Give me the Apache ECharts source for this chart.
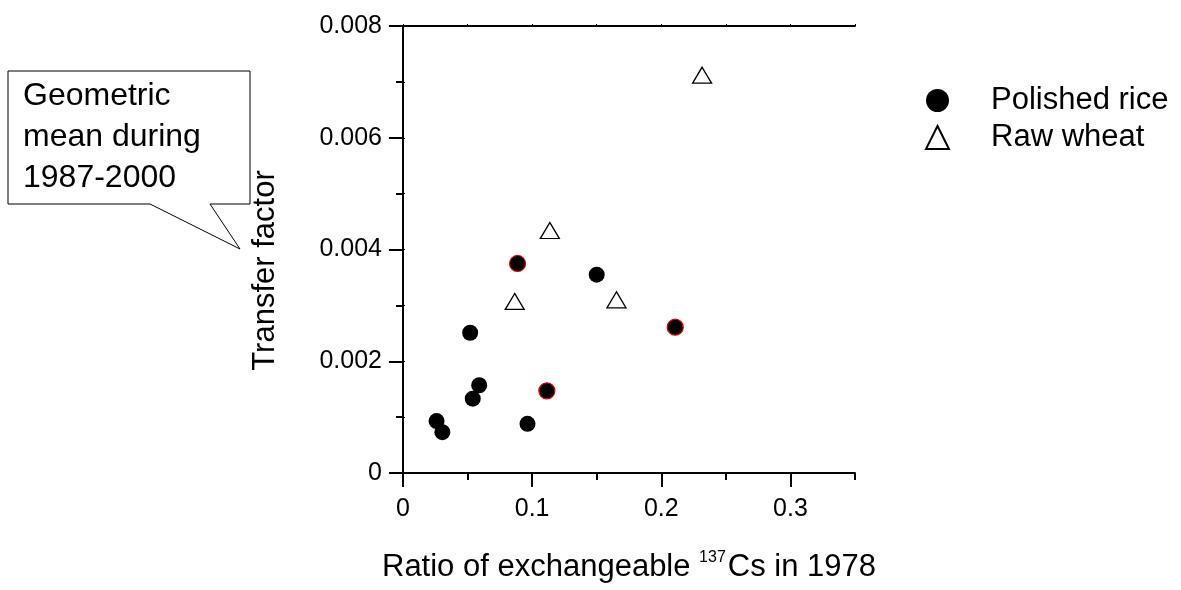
<!DOCTYPE html>
<html>
<head>
<meta charset="utf-8">
<script src="https://cdn.jsdelivr.net/npm/echarts@6/dist/echarts.min.js"></script>
<style>
    html, body {margin: 0; padding: 0; background: #fff;}
    #chart {width: 1181px; height: 590px;}
</style>
</head>
<body>
<div id="chart"></div>
<script>
var riceX = [0.026, 0.0305, 0.052, 0.054, 0.059, 0.0887, 0.0964, 0.1114, 0.150, 0.2108];
var riceY = [0.00093, 0.00073, 0.00251, 0.00133, 0.00157, 0.00375, 0.00088, 0.00147, 0.00355, 0.00261];
var wheatX = [0.2316, 0.0865, 0.1137, 0.1653];
var wheatY = [0.00712, 0.00307, 0.00434, 0.0031];
var seriesNames = ['Polished rice', 'Raw wheat'];
var xTicks = [0, 0.1, 0.2, 0.3];
var yTicks = [0, 0.002, 0.004, 0.006, 0.008];

var FONT = "'Liberation Sans', Arial, sans-serif";

// points drawn with a red rim in the original
var redRim = [5, 7, 9];

function buildRice() {
    var list = [];
    for (var i = 0; i < riceX.length; i++) {
        var item = {value: [riceX[i], riceY[i]]};
        if (redRim.indexOf(i) >= 0) {
            item.itemStyle = {borderColor: '#e00000', borderWidth: 1.2};
        }
        list.push(item);
    }
    return list;
}
function buildWheat() {
    var list = [];
    for (var i = 0; i < wheatX.length; i++) {
        list.push([wheatX[i], wheatY[i]]);
    }
    return list;
}

var chart = echarts.init(document.getElementById('chart'));
var option = {
    backgroundColor: '#fff',
    animation: false,
    textStyle: {fontFamily: FONT, color: '#000'},
    grid: {left: 403, top: 26, width: 452, height: 451},
    legend: {
        orient: 'vertical',
        left: 920,
        top: 80,
        itemWidth: 23,
        itemHeight: 23,
        itemGap: 6,
        data: seriesNames,
        textStyle: {fontFamily: FONT, fontSize: 31, color: '#000', padding: [0, 0, 0, 37]}
    },
    xAxis: [
        {
            type: 'value',
            position: 'bottom',
            min: xTicks[0],
            max: 0.35,
            interval: xTicks[1] - xTicks[0],
            splitLine: {show: false},
            axisLine: {lineStyle: {color: '#000', width: 2}},
            axisTick: {length: 14, lineStyle: {color: '#000', width: 2}},
            axisLabel: {fontSize: 25, color: '#000', margin: 24, showMaxLabel: false, fontFamily: FONT},
            name: 'Ratio of exchangeable {sup|137}Cs in 1978',
            nameLocation: 'middle',
            nameGap: 76,
            nameTextStyle: {
                fontSize: 31, color: '#000', fontFamily: FONT, lineHeight: 36,
                rich: {
                    sup: {fontSize: 16, lineHeight: 16, verticalAlign: 'top', fontFamily: FONT, color: '#000', padding: [1, 2, 0, 0]}
                }
            }
        },
        {
            type: 'value',
            position: 'bottom',
            min: 0,
            max: 0.35,
            interval: 0.05,
            splitLine: {show: false},
            axisLine: {show: false},
            axisTick: {length: 7, lineStyle: {color: '#000', width: 2}},
            axisLabel: {show: false}
        },
        {
            type: 'value',
            position: 'top',
            min: 0,
            max: 0.35,
            interval: 0.05,
            splitLine: {show: false},
            axisLine: {lineStyle: {color: '#000', width: 2}},
            axisTick: {length: 2, lineStyle: {color: '#000', width: 1}},
            axisLabel: {show: false}
        }
    ],
    yAxis: [
        {
            type: 'value',
            position: 'left',
            min: yTicks[0],
            max: yTicks[yTicks.length - 1],
            interval: yTicks[1] - yTicks[0],
            splitLine: {show: false},
            axisLine: {lineStyle: {color: '#000', width: 2}},
            axisTick: {length: 14, lineStyle: {color: '#000', width: 2}},
            minorTick: {show: true, splitNumber: 2, length: 7, lineStyle: {color: '#000', width: 2}},
            minorSplitLine: {show: false},
            axisLabel: {fontSize: 25, color: '#000', margin: 21, fontFamily: FONT},
            name: 'Transfer factor',
            nameLocation: 'middle',
            nameGap: 122,
            nameTextStyle: {fontSize: 31, color: '#000', fontFamily: FONT, padding: [0, 42, 0, 0]}
        },
        {
            type: 'value',
            position: 'right',
            min: 0,
            max: 0.008,
            interval: 0.001,
            splitLine: {show: false},
            axisLine: {lineStyle: {color: '#000', width: 2}},
            axisTick: {length: 2, lineStyle: {color: '#000', width: 1}},
            axisLabel: {show: false}
        }
    ],
    graphic: [
        {
            type: 'polygon',
            shape: {points: [[8, 71], [250, 71], [250, 204], [210, 204], [240, 249], [150, 204], [8, 204]]},
            style: {fill: '#fff', stroke: '#000', lineWidth: 1}
        },
        {
            type: 'text',
            left: 23,
            top: 76,
            style: {
                text: 'Geometric\nmean during\n1987-2000',
                font: '32px ' + FONT,
                lineHeight: 41,
                fill: '#000'
            }
        }
    ],
    series: [
        {
            name: seriesNames[0],
            type: 'scatter',
            xAxisIndex: 0,
            yAxisIndex: 0,
            symbol: 'circle',
            symbolSize: 16,
            itemStyle: {color: '#000', opacity: 1},
            data: buildRice()
        },
        {
            name: seriesNames[1],
            type: 'scatter',
            xAxisIndex: 0,
            yAxisIndex: 0,
            symbol: 'triangle',
            symbolSize: [19, 16],
            itemStyle: {color: '#fff', borderColor: '#000', borderWidth: 1.3, opacity: 1},
            data: buildWheat()
        }
    ]
};
chart.setOption(option);
</script>
</body>
</html>
